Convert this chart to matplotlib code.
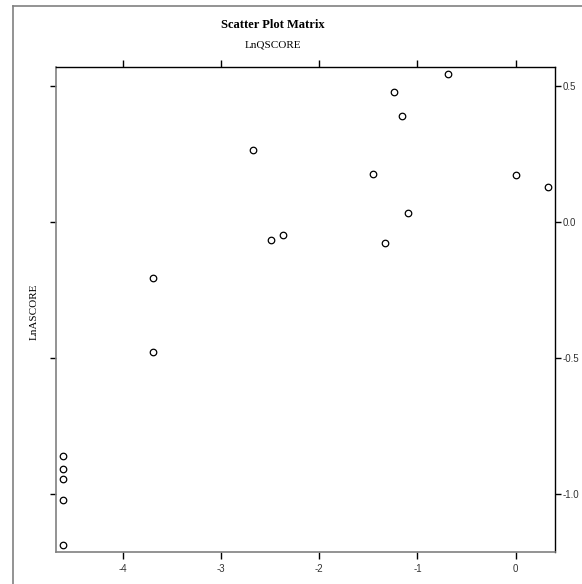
import matplotlib
matplotlib.use("Agg")
import matplotlib.pyplot as plt
from matplotlib.lines import Line2D

plt.rcParams["axes.unicode_minus"] = False

# data
ln_q = [-0.69, -1.24, -1.16, -2.67, -1.45, 0.00, 0.33, -1.10, -2.37, -2.49,
        -1.33, -3.69, -3.69, -4.61, -4.61, -4.61, -4.61, -4.61]
ln_a = [0.544, 0.478, 0.390, 0.265, 0.176, 0.173, 0.129, 0.033, -0.048, -0.066,
        -0.077, -0.206, -0.478, -0.860, -0.908, -0.945, -1.022, -1.188]
xticks = [-4, -3, -2, -1, 0]
yticks = [0.5, 0.0, -0.5, -1.0]

W, H = 582, 584
fig = plt.figure(figsize=(W / 100, H / 100), dpi=100)
ax = fig.add_axes([56 / W, 1 - 552 / H, (555 - 56) / W, (552 - 67) / H])

ax.scatter(ln_q, ln_a, s=22, facecolors="white", edgecolors="black", linewidths=0.9, zorder=3)
ax.set_xlim(-4.68, 0.40)
ax.set_ylim(-1.213, 0.57)

gray = "#808080"
for side in ["left", "bottom"]:
    ax.spines[side].set_color(gray)
    ax.spines[side].set_linewidth(1.2)
for side in ["top", "right"]:
    ax.spines[side].set_color("black")
    ax.spines[side].set_linewidth(1.0)

ax.set_xticks(xticks)
ax.set_xticklabels([str(v) for v in xticks], family="Liberation Sans")
ax.set_yticks(yticks)
ax.set_yticklabels(["%.1f" % v for v in yticks], family="Liberation Sans")
ax.tick_params(axis="x", which="both", direction="out", length=5, width=1,
               top=True, bottom=True, labeltop=False, labelbottom=True,
               labelsize=7, pad=4, labelcolor="#333333")
ax.tick_params(axis="y", which="both", direction="out", length=4, width=1,
               left=True, right=True, labelleft=False, labelright=True,
               labelsize=7, pad=1.5, labelcolor="#333333")
for t in ax.xaxis.get_major_ticks():
    t.tick1line.set_color(gray)
    t.tick2line.set_color("black")
for t in ax.yaxis.get_major_ticks():
    t.tick1line.set_color(gray)
    t.tick2line.set_color("black")

fig.text(273 / W, 1 - 25 / H, "Scatter Plot Matrix", ha="center", va="center",
         fontsize=9, fontweight="bold", family="Liberation Serif")
fig.text(273 / W, 1 - 45 / H, "LnQSCORE", ha="center", va="center",
         fontsize=8, family="Liberation Serif")
fig.text(34 / W, 1 - 312 / H, "LnASCORE", ha="center", va="center",
         rotation=90, fontsize=8, family="Liberation Serif")

# outer frame lines
fig.add_artist(Line2D([12.5 / W, 12.5 / W], [0, 1 - 5.5 / H], color=gray, lw=1.2))
fig.add_artist(Line2D([12.5 / W, 1], [1 - 5.5 / H, 1 - 5.5 / H], color=gray, lw=1.2))

fig.savefig("out.png", dpi=100)
